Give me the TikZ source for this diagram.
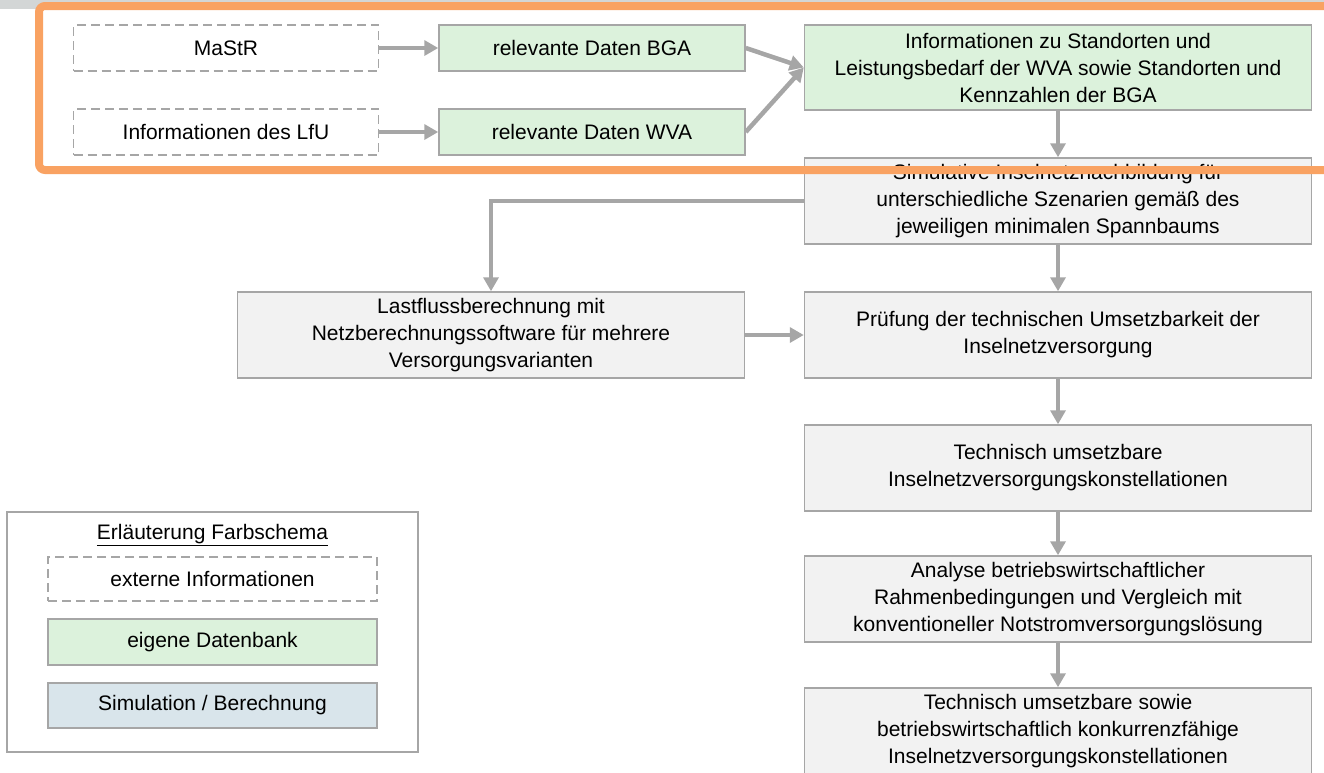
\documentclass[tikz,border=0pt]{standalone}
\usepackage{fontspec}
\setmainfont{Liberation Sans}
\usetikzlibrary{arrows.meta}
\definecolor{linegray}{HTML}{A6A6A6}
\definecolor{dbgreen}{HTML}{DCF2DC}
\definecolor{procgray}{HTML}{F2F2F2}
\definecolor{simblue}{HTML}{D9E5EB}
\definecolor{markorange}{HTML}{F9A262}
\definecolor{bandgray}{HTML}{D3D6D6}

\begin{document}
\begin{tikzpicture}[x=1pt,y=-1pt,font=\fontsize{21}{27}\selectfont,
  extsrc/.style={draw=linegray,line width=1.5pt,dash pattern=on 9pt off 5pt,minimum width=305pt,minimum height=46pt},
  owndb/.style={draw=linegray,line width=1.5pt,fill=dbgreen,minimum width=306pt,minimum height=46pt},
  procbox/.style={draw=linegray,line width=1.5pt,fill=procgray,minimum width=507pt,minimum height=86pt,align=center},
  flow/.style={draw=linegray,line width=4.5pt,-{Triangle[length=14pt,width=15pt]}}]
\clip (0,0) rectangle (1324,772);
\fill[bandgray] (0,0) rectangle (1324,9);

\node[extsrc] (mastr) at (226,48) {MaStR};
\node[extsrc] (lfu) at (226,132) {Informationen des LfU};
\node[owndb] (bga) at (592,48) {relevante Daten BGA};
\node[owndb] (wva) at (592,132) {relevante Daten WVA};
\node[procbox,fill=dbgreen,minimum height=85pt] (info) at (1058,67.5) {Informationen zu Standorten und\\Leistungsbedarf der WVA sowie Standorten und\\Kennzahlen der BGA};
\node[procbox] (sim) at (1058,201) {Simulative Inselnetznachbildung für\\unterschiedliche Szenarien gemäß des\\jeweiligen minimalen Spannbaums};
\node[procbox] (last) at (491,335) {Lastflussberechnung mit\\Netzberechnungssoftware für mehrere\\Versorgungsvarianten};
\node[procbox] (pruef) at (1058,335) {Prüfung der technischen Umsetzbarkeit der\\Inselnetzversorgung};
\node[procbox] (tech) at (1058,468) {Technisch umsetzbare\\Inselnetzversorgungskonstellationen};
\node[procbox] (analyse) at (1058,599) {Analyse betriebswirtschaftlicher\\Rahmenbedingungen und Vergleich mit\\konventioneller Notstromversorgungslösung};
\node[procbox] (final) at (1058,731) {Technisch umsetzbare sowie\\betriebswirtschaftlich konkurrenzfähige\\Inselnetzversorgungskonstellationen};

\draw[flow] (mastr) -- (bga);
\draw[flow] (lfu) -- (wva);
\draw[flow] (bga.east) -- (info.west);
\draw[flow] (wva.east) -- (info.west);
\draw[flow] (info) -- (sim);
\draw[flow] (sim.west) -| (last.north);
\draw[flow] (sim) -- (pruef);
\draw[flow] (last) -- (pruef);
\draw[flow] (pruef) -- (tech);
\draw[flow] (tech) -- (analyse);
\draw[flow] (analyse) -- (final);

\node[draw=linegray,line width=1.5pt,minimum width=411pt,minimum height=240pt] (legend) at (212.5,632) {};
\node (legtitle) at (212.5,535) {\underline{Erläuterung Farbschema}};
\node[extsrc,minimum width=329pt,minimum height=44pt] (legext) at (212.5,579) {externe Informationen};
\node[owndb,minimum width=329pt,minimum height=46pt] (legdb) at (212.5,642) {eigene Datenbank};
\node[owndb,fill=simblue,minimum width=329pt,minimum height=45pt] (legsim) at (212.5,705.5) {Simulation / Berechnung};

\draw[markorange,line width=8pt,rounded corners=6pt] (39,6) rectangle (1345,170);
\end{tikzpicture}
\end{document}
